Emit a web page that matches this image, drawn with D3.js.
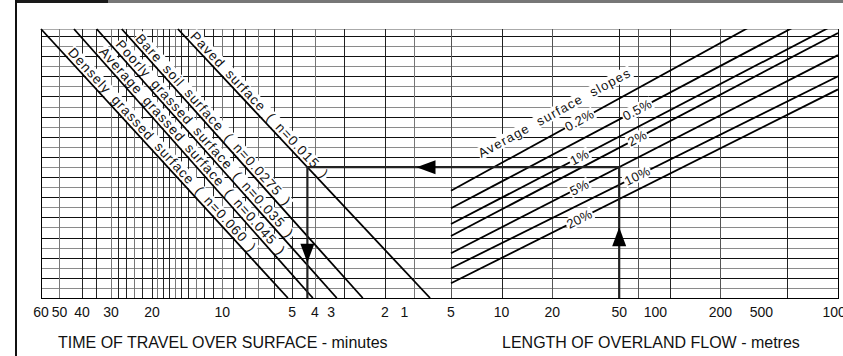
<!DOCTYPE html>
<html>
<head>
<meta charset="utf-8">
<script src="https://cdn.jsdelivr.net/npm/d3@7"></script>
<style>
  body { margin: 0; background: #fff; }
  svg { display: block; font-family: "Liberation Sans", Arial, sans-serif; }
</style>
</head>
<body>
<svg id="chart" width="843" height="356"></svg>
<script>
var timeGrid = [60, 50, 40, 35, 30, 28, 26, 24, 22, 20, 19, 18, 17, 16, 15, 14, 13, 12, 11, 10, 9, 8, 7, 6, 5, 4, 3, 2, 1.5];
var timeTickLabels = ["60", "50", "40", "30", "20", "10", "5", "4", "3", "2", "1"];
var timeTickAt = [60, 50, 40, 30, 20, 10, 5, 4, 3.4, 2, 1.65];

var lengthGrid = [5, 10, 20, 50, 65, 100, 200, 500, 1000];
var lengthTickLabels = ["5", "10", "20", "50", "100", "200", "500", "1000"];
var lengthTickAt = [5, 10, 20, 50, 82, 200, 350, 1000];

// unlabelled turning scale (horizontal rules)
var turningRules = [0, 1, 2, 3, 4, 5, 6, 7, 8, 9, 10, 11, 12, 13, 14, 15, 16, 17, 18, 19, 20, 21, 22, 23, 24, 25, 26];

var surfaces = ["Densely grassed surface", "Average grassed surface", "Poorly grassed surface", "Bare soil surface", "Paved surface"];
var manningN = ["0.060", "0.045", "0.035", "0.0275", "0.015"];
var surfaceTopTime = [60, 43.3, 34.6, 27.0, 15.5];
var surfaceBottomTime = [5.22, 4.08, 3.22, 2.49, 1.28];
var surfaceLabelAt = [24.1, 24.2, 24.9, 25.5, 25.7];

var slopes = ["0.2%", "0.5%", "1%", "2%", "5%", "10%", "20%"];
var slopeAt5m = [10.65, 8.9, 7.34, 6.15, 4.44, 2.95, 1.46];
var slopeAt1000m = [31.7, 29.2, 27.3, 26.3, 24.1, 22.0, 20.7];
var slopeLabelAt = [29, 64, 29, 64, 29, 64, 29];

// worked example: 50 m of flow, 5% slope, paved surface
var exampleLength = 50, exampleSlope = 4, exampleSurface = 4;

var svg = d3.select("#chart");
var fL = 41, fR = 838, fT = 29, fB = 298, split = 451;

var tScale = d3.scaleLog().domain([60, 1]).range([fL, 455]);
var lScale = d3.scaleLog().domain([5, 1000]).range([split, fR]);
var yScale = d3.scaleLinear().domain([0, 26]).range([fB, 36]);

// header strip and margin rule
svg.append("rect").attr("x", 15).attr("y", 0).attr("width", 93).attr("height", 3).attr("fill", "#1a1a1a");
svg.append("rect").attr("x", 108).attr("y", 0).attr("width", 735).attr("height", 3).attr("fill", "#777");
svg.append("rect").attr("x", 15).attr("y", 0).attr("width", 2).attr("height", 356).attr("fill", "#111");

// grid
var grid = svg.append("g").attr("shape-rendering", "crispEdges");
grid.selectAll(".rule").data(turningRules).enter().append("line")
  .attr("x1", fL).attr("x2", fR)
  .attr("y1", function(d) { return Math.round(yScale(d)) + 0.5; })
  .attr("y2", function(d) { return Math.round(yScale(d)) + 0.5; })
  .attr("stroke", function(d) { return d % 2 ? "#8a8a8a" : "#111"; });
grid.append("line").attr("x1", fL).attr("x2", fR).attr("y1", fT + 0.5).attr("y2", fT + 0.5).attr("stroke", "#aaa");

grid.selectAll(".tg").data(timeGrid).enter().append("line")
  .attr("x1", function(d) { return Math.round(tScale(d)) + 0.5; })
  .attr("x2", function(d) { return Math.round(tScale(d)) + 0.5; })
  .attr("y1", fT).attr("y2", fB)
  .attr("stroke", function(d, i) { return i % 3 == 1 ? "#777" : "#222"; });
grid.selectAll(".lg").data(lengthGrid).enter().append("line")
  .attr("x1", function(d) { return Math.round(lScale(d)) + 0.5; })
  .attr("x2", function(d) { return Math.round(lScale(d)) + 0.5; })
  .attr("y1", fT).attr("y2", fB)
  .attr("stroke", function(d, i) { return i % 2 ? "#222" : "#555"; });

// frame
grid.append("line").attr("x1", fL + 0.5).attr("x2", fL + 0.5).attr("y1", fT).attr("y2", fB).attr("stroke", "#000");
grid.append("line").attr("x1", fL).attr("x2", fR + 1).attr("y1", fB + 0.5).attr("y2", fB + 0.5).attr("stroke", "#000");
grid.append("line").attr("x1", fR + 0.5).attr("x2", fR + 0.5).attr("y1", fT).attr("y2", fB).attr("stroke", "#000");

function tiltedLabel(parent, x, y, angle, str, o) {
  var g = parent.append("g").attr("transform", "translate(" + x + "," + y + ") rotate(" + angle + ")");
  var bg = g.append("rect").attr("fill", "#fff");
  var t = g.append("text")
    .attr("x", o.dx || 0).attr("y", o.dy || 0)
    .attr("text-anchor", o.anchor || "start")
    .attr("dominant-baseline", o.baseline || "auto")
    .style("font-size", o.size + "px")
    .style("letter-spacing", (o.ls || 0) + "px")
    .style("word-spacing", (o.ws || 0) + "px")
    .attr("fill", "#111")
    .text(str);
  var b = t.node().getBBox();
  bg.attr("x", b.x - 1).attr("y", b.y + 1).attr("width", b.width + 2).attr("height", b.height - 2);
  return g;
}

// surface (roughness) lines
var surf = svg.append("g");
function surfX(i, y) {
  var xa = tScale(surfaceTopTime[i]), xb = tScale(surfaceBottomTime[i]);
  return xa + (xb - xa) * (y - fT) / (fB - fT);
}
surfaces.forEach(function(name, i) {
  var xa = tScale(surfaceTopTime[i]), xb = tScale(surfaceBottomTime[i]);
  var ang = Math.atan2(fB - fT, xb - xa) * 180 / Math.PI;
  var y0 = yScale(surfaceLabelAt[i]);
  tiltedLabel(surf, surfX(i, y0), y0, ang, name + " ( n=" + manningN[i] + " )",
    { size: 13.5, ls: 1.1, ws: 3, dy: -3 });
});
surf.selectAll(".sl").data(surfaces).enter().append("line")
  .attr("x1", function(d, i) { return tScale(surfaceTopTime[i]); })
  .attr("x2", function(d, i) { return tScale(surfaceBottomTime[i]); })
  .attr("y1", fT).attr("y2", fB)
  .attr("stroke", "#000").attr("stroke-width", 1.8);

// slope lines
svg.append("clipPath").attr("id", "frame").append("rect")
  .attr("x", fL).attr("y", fT).attr("width", fR - fL).attr("height", fB - fT);
var sg = svg.append("g").attr("clip-path", "url(#frame)");
sg.selectAll(".sp").data(slopes).enter().append("line")
  .attr("x1", lScale(5)).attr("x2", lScale(1000))
  .attr("y1", function(d, i) { return yScale(slopeAt5m[i]); })
  .attr("y2", function(d, i) { return yScale(slopeAt1000m[i]); })
  .attr("stroke", "#000").attr("stroke-width", 1.8);

function slopeIdx(i, L) {
  var f = Math.log(L / 5) / Math.log(1000 / 5);
  return slopeAt5m[i] + (slopeAt1000m[i] - slopeAt5m[i]) * f;
}
slopes.forEach(function(s, i) {
  var ang = Math.atan2(yScale(slopeAt1000m[i]) - yScale(slopeAt5m[i]), lScale(1000) - lScale(5)) * 180 / Math.PI;
  var L = slopeLabelAt[i];
  tiltedLabel(svg, lScale(L), yScale(slopeIdx(i, L)), ang, s,
    { size: 13, anchor: "middle", baseline: "central", ls: 0.3 });
});
var a0 = Math.atan2(yScale(slopeAt1000m[0]) - yScale(slopeAt5m[0]), lScale(1000) - lScale(5)) * 180 / Math.PI;
tiltedLabel(svg, lScale(8.3), yScale(slopeIdx(0, 8.3)), a0, "Average surface slopes",
  { size: 13, ls: 1.2, ws: 5, dy: -14 });

// worked-example path with arrows
var ex = svg.append("g");
var yEx = yScale(slopeIdx(exampleSlope, exampleLength));
var xL = lScale(exampleLength), xT = surfX(exampleSurface, yEx);
ex.append("path")
  .attr("d", "M" + xL + "," + fB + "V" + yEx + "H" + xT + "V" + fB)
  .attr("fill", "none").attr("stroke", "#222").attr("stroke-width", 2.2);
function arrowHead(x, y, rot) {
  ex.append("path").attr("d", "M0,0L-7,-19L7,-19Z")
    .attr("transform", "translate(" + x + "," + y + ") rotate(" + rot + ")")
    .attr("fill", "#000");
}
arrowHead(xL, fB - (fB - yEx) * 0.54, 180);
arrowHead(xL - (xL - xT) * 0.65, yEx, 90);
arrowHead(xT, yEx + (fB - yEx) * 0.73, 0);

// tick labels
var ticks = svg.append("g").style("font-size", "14px").attr("fill", "#111").attr("text-anchor", "middle");
ticks.selectAll(".tt").data(timeTickLabels).enter().append("text")
  .attr("x", function(d, i) { return tScale(timeTickAt[i]); })
  .attr("y", 316.5).text(function(d) { return d; });
ticks.selectAll(".lt").data(lengthTickLabels).enter().append("text")
  .attr("x", function(d, i) { return lScale(lengthTickAt[i]); })
  .attr("y", 316.5).text(function(d) { return d; });

// axis titles
svg.append("text").attr("x", 58).attr("y", 348).style("font-size", "16px").attr("fill", "#111")
  .text("TIME OF TRAVEL OVER SURFACE - minutes");
svg.append("text").attr("x", 502).attr("y", 348).style("font-size", "16px").attr("fill", "#111")
  .text("LENGTH OF OVERLAND FLOW - metres");
</script>
</body>
</html>
